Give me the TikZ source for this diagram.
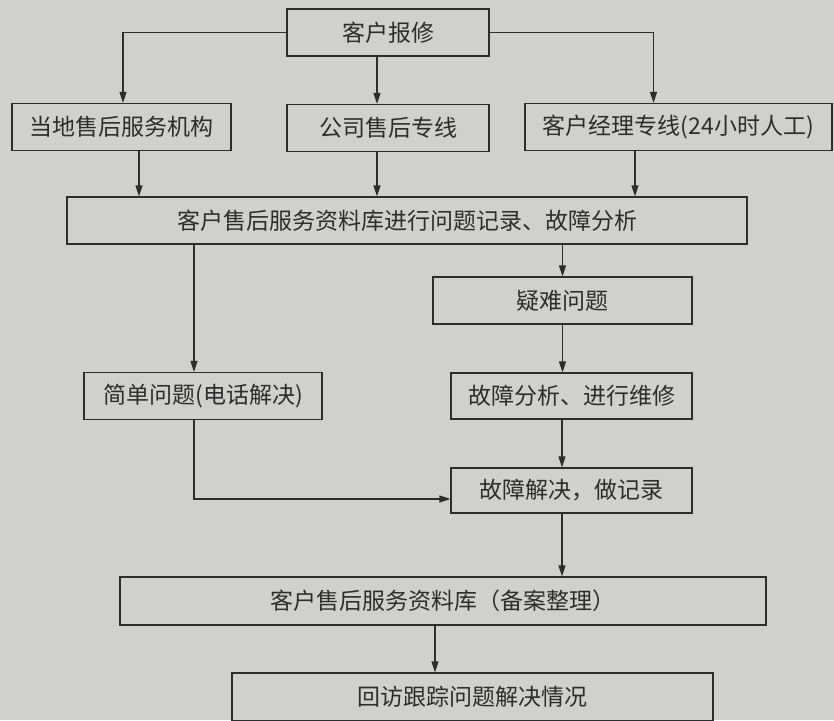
\documentclass[tikz,border=0pt]{standalone}
\usepackage{fontspec}
\setmainfont{Noto Sans CJK SC}
\usetikzlibrary{arrows.meta,positioning}
\definecolor{paper}{RGB}{208,208,206}
\definecolor{ink}{RGB}{45,45,45}

\begin{document}
\begin{tikzpicture}[x=1pt,y=-1pt,->,>={Triangle[length=11pt,width=7pt]},line width=1.3pt,draw=ink]
  \tikzstyle{box}=[draw=ink,fill=none,text=ink,inner sep=0pt,minimum height=47pt,font=\fontsize{23}{28}\selectfont]

  \fill[paper] (0,0) rectangle (834,720);
  \useasboundingbox (0,0) rectangle (834,720);

  \node[box,minimum width=202pt] (rep)    at (388,32.5)   {客户报修};
  \node[box,minimum width=219pt] (local)  at (121.5,127)  {当地售后服务机构};
  \node[box,minimum width=202pt] (line)   at (388,128)    {公司售后专线};
  \node[box,minimum width=307pt] (mgr)    at (678.5,127)  {客户经理专线(24小时人工)};
  \node[box,minimum width=680pt] (rec)    at (407,220.5)  {客户售后服务资料库进行问题记录、故障分析};
  \node[box,minimum width=259pt] (hard)   at (562.5,300.5) {疑难问题};
  \node[box,minimum width=238pt] (simple) at (203,396)    {简单问题(电话解决)};
  \node[box,minimum width=241pt,minimum height=46pt] (repair) at (571.5,396) {故障分析、进行维修};
  \node[box,minimum width=241pt,minimum height=45pt] (solved) at (571.5,490.5) {故障解决，做记录};
  \node[box,minimum width=646pt,minimum height=48pt] (arch)   at (443,601)    {客户售后服务资料库（备案整理）};
  \node[box,minimum width=481pt,minimum height=48pt] (visit)  at (472.5,697)  {回访跟踪问题解决情况};

  \draw (rep.west) -| ([xshift=1.5pt]local.north);
  \draw ([xshift=-11pt]rep.south) -- ([xshift=-11pt]line.north);
  \draw (rep.east) -| ([xshift=-25pt]mgr.north);

  \draw ([xshift=17.5pt]local.south) -- ([xshift=17.5pt]local.south |- rec.north);
  \draw ([xshift=-11pt]line.south) -- ([xshift=-11pt]line.south |- rec.north);
  \draw ([xshift=-43.5pt]mgr.south) -- ([xshift=-43.5pt]mgr.south |- rec.north);

  \draw ([xshift=-9pt]simple.north |- rec.south) -- ([xshift=-9pt]simple.north);
  \draw (hard.north |- rec.south) -- (hard.north);
  \draw (hard.south) -- (hard.south |- repair.north);
  \draw ([xshift=-9.5pt]repair.south) -- ([xshift=-9.5pt]solved.north);
  \draw ([xshift=-9pt]simple.south) |- ([yshift=-8.5pt]solved.west);
  \draw ([xshift=-9.5pt]solved.south) -- ([xshift=-9.5pt]solved.south |- arch.north);
  \draw ([xshift=-37.5pt]visit.north |- arch.south) -- ([xshift=-37.5pt]visit.north);
\end{tikzpicture}
\end{document}
